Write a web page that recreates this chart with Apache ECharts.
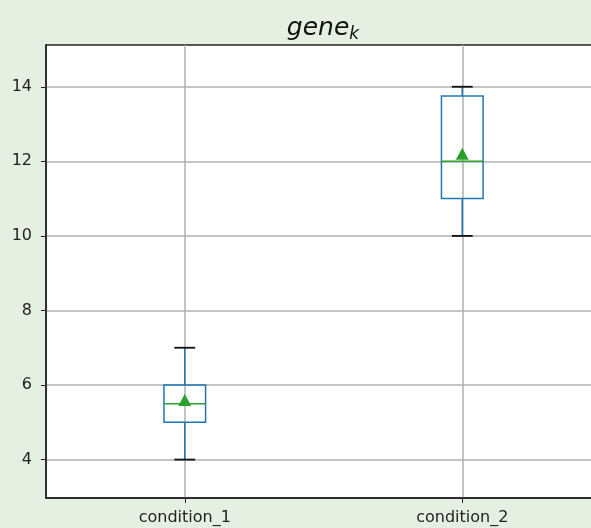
<!DOCTYPE html>
<html>
<head>
<meta charset="utf-8">
<script src="https://cdn.jsdelivr.net/npm/echarts@6/dist/echarts.min.js"></script>
<style>
  html, body { margin: 0; padding: 0; background: #e5efe2; }
  #chart { width: 591px; height: 528px; }
</style>
</head>
<body>
<div id="chart"></div>
<script>
// Box-plot summary per condition
const categories = ['condition_1', 'condition_2'];
const whiskerLow = [4, 10];
const quartile1 = [5, 11];
const medians = [5.5, 12];
const quartile3 = [6, 13.75];
const whiskerHigh = [7, 14];
const means = [5.6, 12.2];
const yTicks = [4, 6, 8, 10, 12, 14];

const BLUE = '#1f77b4';
const GREEN = '#2ca02c';
const FONT = 'DejaVu Sans';

const boxData = categories.map((c, i) => [i + 1, whiskerLow[i], quartile1[i], medians[i], quartile3[i], whiskerHigh[i]]);
const meanData = categories.map((c, i) => [i + 1, means[i]]);

function renderBox(params, api) {
  const x = api.value(0);
  const pLow = api.coord([x, api.value(1)]);
  const pQ1 = api.coord([x, api.value(2)]);
  const pMed = api.coord([x, api.value(3)]);
  const pQ3 = api.coord([x, api.value(4)]);
  const pHigh = api.coord([x, api.value(5)]);
  const boxW = api.size([0.15, 0])[0];
  const capW = boxW / 2;
  const cx = pQ1[0];
  const blue = { stroke: BLUE, lineWidth: 1.5, fill: null };
  const black = { stroke: '#111', lineWidth: 1.8 };
  return {
    type: 'group',
    children: [
      { type: 'line', shape: { x1: cx, y1: pQ1[1], x2: cx, y2: pLow[1] }, style: blue },
      { type: 'line', shape: { x1: cx, y1: pQ3[1], x2: cx, y2: pHigh[1] }, style: blue },
      { type: 'line', shape: { x1: cx - capW / 2, y1: pLow[1], x2: cx + capW / 2, y2: pLow[1] }, style: black },
      { type: 'line', shape: { x1: cx - capW / 2, y1: pHigh[1], x2: cx + capW / 2, y2: pHigh[1] }, style: black },
      { type: 'rect', shape: { x: cx - boxW / 2, y: pQ3[1], width: boxW, height: pQ1[1] - pQ3[1] }, style: blue },
      { type: 'line', shape: { x1: cx - boxW / 2, y1: pMed[1], x2: cx + boxW / 2, y2: pMed[1] }, style: { stroke: GREEN, lineWidth: 1.5 } }
    ]
  };
}

const chart = echarts.init(document.getElementById('chart'), null, { renderer: 'canvas' });
chart.setOption({
  backgroundColor: '#e5efe2',
  animation: false,
  title: {
    text: '{a|gene}{b|k}',
    left: 318,
    top: 8,
    textAlign: 'center',
    textStyle: {
      fontWeight: 'normal',
      rich: {
        a: { fontFamily: FONT, fontStyle: 'italic', fontWeight: 'normal', fontSize: 25, color: '#111', lineHeight: 30 },
        b: { fontFamily: FONT, fontStyle: 'italic', fontWeight: 'normal', fontSize: 17, color: '#111', lineHeight: 30, verticalAlign: 'bottom', padding: [10, 0, 0, 0] }
      }
    }
  },
  grid: {
    left: 46, top: 45, width: 555, height: 453,
    outerBoundsMode: 'none',
    show: true, backgroundColor: '#ffffff', borderColor: '#222', borderWidth: 1.5
  },
  xAxis: {
    type: 'value',
    min: 0.5, max: 2.5,
    axisLine: { show: true, onZero: false, lineStyle: { color: '#222', width: 1.5 } },
    axisTick: { show: true, length: 5, customValues: [1, 2], lineStyle: { color: '#222', width: 1 } },
    axisLabel: {
      customValues: [1, 2], margin: 12,
      formatter: v => categories[Math.round(v) - 1] || '',
      fontFamily: FONT, fontSize: 16, color: '#222'
    },
    splitLine: { show: true, lineStyle: { color: '#b0b0b0', width: 1.5 } }
  },
  yAxis: {
    type: 'value',
    min: 2.97, max: 15.12,
    axisLine: { show: true, lineStyle: { color: '#222', width: 1.5 } },
    axisTick: { show: true, length: 5, customValues: yTicks, lineStyle: { color: '#222', width: 1 } },
    axisLabel: { customValues: yTicks, margin: 14, fontFamily: FONT, fontSize: 16, color: '#222' },
    splitLine: { show: true, lineStyle: { color: '#b0b0b0', width: 1.5 } }
  },
  series: [
    { type: 'custom', renderItem: renderBox, data: boxData, encode: { x: 0, y: [1, 2, 3, 4, 5] }, z: 3 },
    { type: 'scatter', data: meanData, symbol: 'triangle', symbolSize: [13, 12], itemStyle: { color: GREEN, opacity: 1 }, z: 4 }
  ]
});
</script>
</body>
</html>
